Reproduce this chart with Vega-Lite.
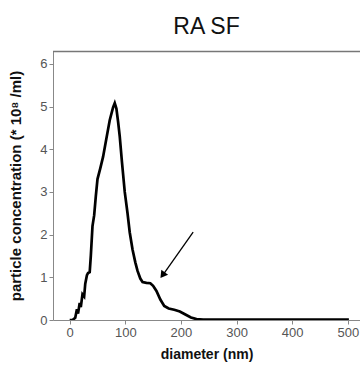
{
  "$schema": "https://vega.github.io/schema/vega-lite/v6.json",
  "autosize": "none",
  "width": 307,
  "height": 269,
  "padding": {"left": 53, "top": 51, "right": 0, "bottom": 45},
  "config": {
    "view": {"stroke": null},
    "font": "Liberation Sans",
    "axis": {"domainColor": "#888", "tickColor": "#888", "labelColor": "#555", "labelFontSize": 13, "tickSize": 4, "titleFontSize": 14, "titleFontWeight": "bold", "titleColor": "#111", "grid": false, "labelFont": "Liberation Sans", "titleFont": "Liberation Sans"}
  },
  "title": {"text": "RA SF", "fontSize": 23, "fontWeight": "normal", "font": "Liberation Sans", "color": "#111", "offset": 12},
  "datasets": {
    "curve": [
      {"d": 0, "c": 0}, {"d": 5, "c": 0}, {"d": 10, "c": 0.05}, {"d": 13, "c": 0.25}, {"d": 15, "c": 0.15},
      {"d": 18, "c": 0.4}, {"d": 20, "c": 0.3}, {"d": 23, "c": 0.6}, {"d": 26, "c": 0.55}, {"d": 28, "c": 0.85},
      {"d": 31, "c": 1.05}, {"d": 33, "c": 1.1}, {"d": 36, "c": 1.12}, {"d": 38, "c": 1.5}, {"d": 41, "c": 2.2},
      {"d": 44, "c": 2.45}, {"d": 47, "c": 2.9}, {"d": 50, "c": 3.3}, {"d": 55, "c": 3.55}, {"d": 60, "c": 3.82},
      {"d": 66, "c": 4.25}, {"d": 72, "c": 4.68}, {"d": 78, "c": 4.98}, {"d": 81, "c": 5.08}, {"d": 84, "c": 4.95},
      {"d": 87, "c": 4.65}, {"d": 90, "c": 4.3}, {"d": 94, "c": 3.7}, {"d": 99, "c": 3.0}, {"d": 104, "c": 2.5},
      {"d": 108, "c": 2.05}, {"d": 113, "c": 1.65}, {"d": 118, "c": 1.35}, {"d": 122, "c": 1.15}, {"d": 127, "c": 0.97},
      {"d": 131, "c": 0.89}, {"d": 138, "c": 0.87}, {"d": 145, "c": 0.86}, {"d": 150, "c": 0.8}, {"d": 156, "c": 0.68},
      {"d": 163, "c": 0.48}, {"d": 170, "c": 0.33}, {"d": 178, "c": 0.27}, {"d": 188, "c": 0.24}, {"d": 198, "c": 0.2},
      {"d": 208, "c": 0.13}, {"d": 218, "c": 0.06}, {"d": 228, "c": 0.02}, {"d": 240, "c": 0.01}, {"d": 300, "c": 0.01},
      {"d": 400, "c": 0.01}, {"d": 502, "c": 0.01}
    ],
    "arrow": [{"x1": 222, "y1": 2.06, "x2": 170, "y2": 1.1}],
    "head": [{"x": 167, "y": 1.05}],
    "top": [{"t": 6.29}]
  },
  "layer": [
    {
      "data": {"name": "top"},
      "mark": {"type": "rule", "color": "#777", "strokeWidth": 1.5},
      "encoding": {"y": {"field": "t", "type": "quantitative", "scale": {"domain": [0, 6.3], "nice": false}}}
    },
    {
      "data": {"name": "curve"},
      "mark": {"type": "line", "color": "#000", "strokeWidth": 2.7, "clip": true},
      "encoding": {
        "x": {"field": "d", "type": "quantitative", "scale": {"domain": [-30, 522], "nice": false, "zero": false}, "axis": {"values": [0, 100, 200, 300, 400, 500], "title": "diameter (nm)", "titlePadding": 8}},
        "y": {"field": "c", "type": "quantitative", "scale": {"domain": [0, 6.3], "nice": false}, "axis": {"values": [0, 1, 2, 3, 4, 5, 6], "title": "particle concentration (* 10⁸ /ml)", "titlePadding": 16, "titleFontSize": 15}}
      }
    },
    {
      "data": {"name": "arrow"},
      "mark": {"type": "rule", "color": "#000", "strokeWidth": 1.3},
      "encoding": {
        "x": {"field": "x1", "type": "quantitative"},
        "y": {"field": "y1", "type": "quantitative"},
        "x2": {"field": "x2"},
        "y2": {"field": "y2"}
      }
    },
    {
      "data": {"name": "head"},
      "mark": {"type": "point", "shape": "triangle-up", "filled": true, "color": "#000", "size": 70, "angle": 216, "opacity": 1},
      "encoding": {
        "x": {"field": "x", "type": "quantitative"},
        "y": {"field": "y", "type": "quantitative"}
      }
    }
  ]
}
